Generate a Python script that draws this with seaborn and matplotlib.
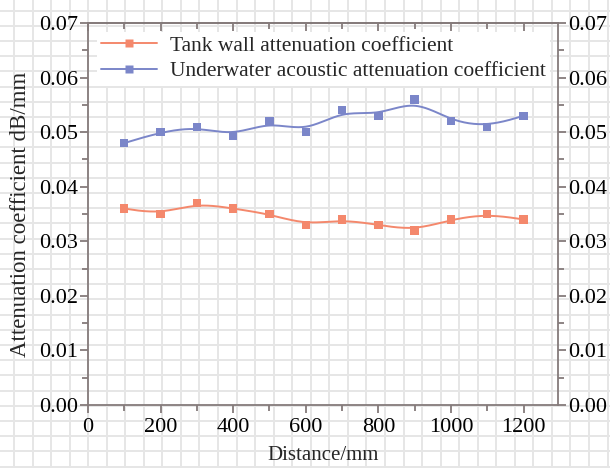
import numpy as np
import pandas as pd
import matplotlib
matplotlib.use("Agg")
import matplotlib.pyplot as plt
from matplotlib.lines import Line2D
from matplotlib.ticker import MultipleLocator, FormatStrFormatter
import seaborn as sns

distance = [100, 200, 300, 400, 500, 600, 700, 800, 900, 1000, 1100, 1200]
tank_wall = [0.036, 0.035, 0.037, 0.036, 0.035, 0.033, 0.034, 0.033, 0.032, 0.034, 0.035, 0.034]
underwater = [0.048, 0.050, 0.051, 0.0493, 0.052, 0.050, 0.054, 0.053, 0.056, 0.052, 0.051, 0.053]
series_names = ["Tank wall attenuation coefficient", "Underwater acoustic attenuation coefficient"]
colors = ["#F4886C", "#7B86C9"]

sns.set_theme(style="white")
plt.rcParams['font.family'] = ['Liberation Serif', 'DejaVu Serif']
plt.rcParams['mathtext.fontset'] = 'stix'


def bspline(xs, ys, n=30):
    # uniform cubic B-spline (Origin "B-Spline" connection), clamped ends
    P = np.column_stack([xs, ys]).astype(float)
    P = np.vstack([P[0], P[0], P, P[-1], P[-1]])
    out = []
    t = np.linspace(0, 1, n, endpoint=False)
    M = np.array([[-1, 3, -3, 1], [3, -6, 3, 0], [-3, 0, 3, 0], [1, 4, 1, 0]]) / 6.0
    T = np.column_stack([t**3, t**2, t, np.ones_like(t)])
    for i in range(len(P) - 3):
        seg = T @ M @ P[i:i + 4]
        out.append(seg)
    out.append(P[-1][None, :])
    c = np.vstack(out)
    return c[:, 0], c[:, 1]


fig = plt.figure(figsize=(6.1, 4.68), dpi=100)
fig.patch.set_facecolor("white")

# graph-paper background
bg = fig.add_axes([0, 0, 1, 1], zorder=-5)
bg.set_xlim(0, 610)
bg.set_ylim(468, 0)
bg.axis("off")
gx = 106.7 + 18.55 * np.arange(-6, 30)
gy = 223.3 + 15.2 * np.arange(-15, 20)
for v in gx:
    bg.axvline(v, color="#e6e6e6", lw=1.4)
for h in gy:
    bg.axhline(h, color="#e6e6e6", lw=1.4)

ax = fig.add_axes([88 / 610, 63 / 468, 470 / 610, 382 / 468])
ax.set_facecolor("none")

for name, vals, col in zip(series_names, [tank_wall, underwater], colors):
    cx, cy = bspline(distance, vals)
    sns.lineplot(x=cx, y=cy, ax=ax, color=col, lw=1.4, sort=False, estimator=None)
    sns.scatterplot(x=distance, y=vals, ax=ax, color=col, marker="s", s=36,
                    edgecolor="none", zorder=3)

ax.set_xlim(0, 1295)
ax.set_ylim(0, 0.07)
ax.xaxis.set_major_locator(MultipleLocator(200))
ax.xaxis.set_minor_locator(MultipleLocator(100))
ax.yaxis.set_major_locator(MultipleLocator(0.01))
ax.yaxis.set_minor_locator(MultipleLocator(0.005))
ax.yaxis.set_major_formatter(FormatStrFormatter("%.2f"))

spc = "#857b7b"
for s in ax.spines.values():
    s.set_color(spc)
    s.set_linewidth(1.3)

ax.tick_params(axis="x", which="both", direction="out", color=spc, top=False,
               bottom=True, labelsize=16, labelcolor="black", width=1.3, pad=3)
ax.tick_params(axis="x", which="major", length=6)
ax.tick_params(axis="x", which="minor", length=4)
ax.tick_params(axis="y", which="both", direction="out", color=spc, left=True,
               right=True, labelright=True, labelsize=16, labelcolor="black",
               width=1.3, pad=1)
ax.tick_params(axis="y", which="major", length=6)
ax.tick_params(axis="y", which="minor", length=4)

top = ax.secondary_xaxis("top")
top.xaxis.set_major_locator(MultipleLocator(200))
top.xaxis.set_minor_locator(MultipleLocator(100))
top.tick_params(which="both", direction="in", color=spc, width=1.3, labeltop=False)
top.tick_params(which="major", length=6)
top.tick_params(which="minor", length=4)
top.spines["top"].set_color(spc)
top.spines["top"].set_linewidth(1.3)

ax.set_xlabel("Distance/mm", fontsize=15, labelpad=7)
ax.set_ylabel("Attenuation coefficient dB/mm", fontsize=16.5, labelpad=6)
ax.yaxis.set_label_coords(-0.122, 0.5)

handles = [Line2D([0], [0], color=c, lw=1.4, marker="s", markersize=6,
                  markeredgecolor="none") for c in colors]
leg = ax.legend(handles, series_names, loc="upper left", bbox_to_anchor=(0.0, 1.0),
                fontsize=15.5, frameon=True, handlelength=2.6, handletextpad=0.6,
                labelspacing=0.25, borderpad=0.2, borderaxespad=0.4)
leg.get_frame().set_facecolor("white")
leg.get_frame().set_edgecolor("none")
leg.get_frame().set_alpha(1)

fig.savefig("out.png", dpi=100, facecolor="white")
